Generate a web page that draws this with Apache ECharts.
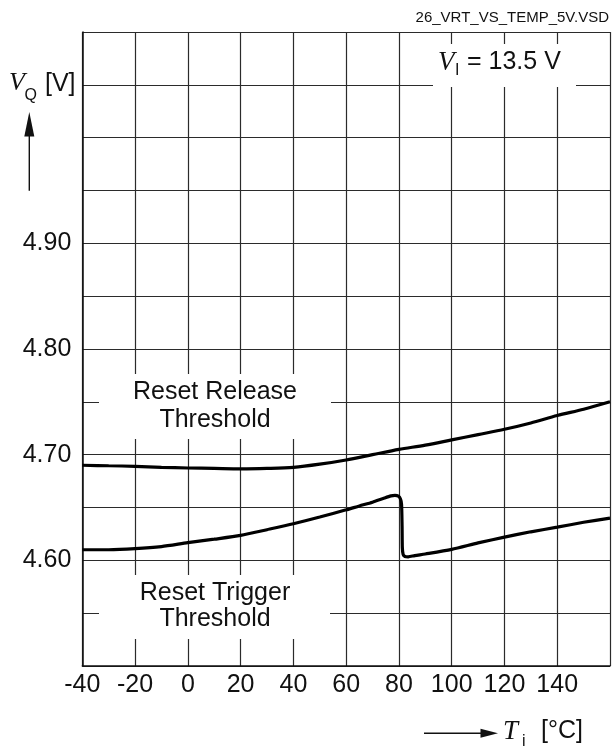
<!DOCTYPE html>
<html>
<head>
<meta charset="utf-8">
<script src="https://cdn.jsdelivr.net/npm/echarts@6/dist/echarts.min.js"></script>
<style>
html,body{margin:0;padding:0;background:#fff;}
#c{width:616px;height:746px;}
</style>
</head>
<body>
<div id="c"></div>
<script>
// ---- data ----
const releaseTemps = [-40,-30,-20,-10,0,10,20,30,40,50,60,70,80,90,100,110,120,130,140,150,160];
const releaseValues = [4.690,4.6895,4.689,4.688,4.6874,4.687,4.6866,4.687,4.688,4.691,4.695,4.700,4.705,4.709,4.714,4.719,4.724,4.730,4.737,4.743,4.750];

const triggerTemps = [-40,-30,-20,-10,0,10,20,30,40,50,60,65,70,74,77,78.5,79.8,80.6,81,81.2,81.3,81.6,82.3,83.5,86,90,100,110,120,130,140,150,160];
const triggerValues = [4.610,4.610,4.611,4.613,4.6167,4.620,4.6236,4.629,4.6346,4.641,4.6478,4.6515,4.655,4.6585,4.661,4.6615,4.6607,4.658,4.653,4.632,4.612,4.6055,4.6036,4.6033,4.6045,4.606,4.6104,4.6165,4.622,4.627,4.6314,4.636,4.640];

const xTickLabels = ['-40','-20','0','20','40','60','80','100','120','140'];
const yTickLabels = ['4.60','4.70','4.80','4.90'];

const releaseLabel = ['Reset Release', 'Threshold'];
const triggerLabel = ['Reset Trigger', 'Threshold'];
const fileLabel = '26_VRT_VS_TEMP_5V.VSD';
const conditionText = '= 13.5 V';

// ---- chart ----
const SANS = '"Liberation Sans", Arial, Helvetica, sans-serif';
const SERIF = '"Liberation Serif", "Times New Roman", serif';
const chart = echarts.init(document.getElementById('c'), null, {renderer: 'canvas'});

function zip(xs, ys){ return xs.map((x,i)=>[x, ys[i]]); }

const gridColor = '#2b2b2b';

function txt(x, y, text, font, opts){
  return {
    type: 'text', x: x, y: y, z: 20,
    style: Object.assign({text: text, font: font, fill: '#111', align: 'left', verticalAlign: 'middle'}, opts || {})
  };
}
function whiteBox(x, y, w, h){
  return {type: 'rect', z: 10, shape: {x: x, y: y, width: w, height: h}, style: {fill: '#fff'}};
}

const option = {
  backgroundColor: '#fff',
  animation: false,
  grid: {left: 82.3, right: 6, top: 32, bottom: 80, containLabel: false},
  xAxis: {
    type: 'value', min: -40, max: 160, interval: 20,
    axisLine: {show: true, onZero: false, lineStyle: {color: '#111', width: 1.5}},
    axisTick: {show: false},
    splitLine: {show: true, lineStyle: {color: gridColor, width: 1.2}},
    axisLabel: {
      margin: 7, fontSize: 25, color: '#111', fontFamily: SANS,
      formatter: v => { const s = String(Math.round(v)); return xTickLabels.includes(s) ? s : ''; }
    }
  },
  yAxis: {
    type: 'value', min: 4.5, max: 5.1, interval: 0.05,
    axisLine: {show: true, onZero: false, lineStyle: {color: '#111', width: 1.5}},
    axisTick: {show: false},
    splitLine: {show: true, lineStyle: {color: gridColor, width: 1.2}},
    axisLabel: {
      margin: 11, fontSize: 25, color: '#111', fontFamily: SANS,
      formatter: v => { const s = v.toFixed(2); return yTickLabels.includes(s) ? s : ''; }
    }
  },
  series: [
    {type: 'line', name: 'release', data: zip(releaseTemps, releaseValues), showSymbol: false, smooth: 0.3,
     lineStyle: {color: '#000', width: 3.2}, z: 30},
    {type: 'line', name: 'trigger', data: zip(triggerTemps, triggerValues), showSymbol: false, smooth: 0.25,
     lineStyle: {color: '#000', width: 3.2}, z: 30}
  ],
  graphic: [
    whiteBox(99, 374, 232, 65),
    whiteBox(99, 575, 231, 64),
    whiteBox(433, 44, 143, 43),
    txt(215, 392.5, releaseLabel[0], '25px ' + SANS, {align: 'center'}),
    txt(215, 420, releaseLabel[1], '25px ' + SANS, {align: 'center'}),
    txt(215, 593.5, triggerLabel[0], '25px ' + SANS, {align: 'center'}),
    txt(215, 619, triggerLabel[1], '25px ' + SANS, {align: 'center'}),
    txt(438, 62.5, 'V', 'italic 27px ' + SERIF),
    txt(455, 71, 'I', '16px ' + SANS),
    txt(467, 62.5, conditionText, '25px ' + SANS),
    txt(609, 18, fileLabel, '15px ' + SANS, {align: 'right'}),
    txt(9, 83.5, 'V', 'italic 26px ' + SERIF),
    txt(24.5, 96, 'Q', '16px ' + SANS),
    txt(45, 84, '[V]', '25px ' + SANS),
    {type: 'line', z: 20, shape: {x1: 29.3, y1: 190.7, x2: 29.3, y2: 130}, style: {stroke: '#111', lineWidth: 1.4}},
    {type: 'polygon', z: 20, shape: {points: [[29.3, 112], [24.3, 136.5], [34.3, 136.5]]}, style: {fill: '#111'}},
    {type: 'line', z: 20, shape: {x1: 424, y1: 733.3, x2: 486, y2: 733.3}, style: {stroke: '#111', lineWidth: 1.4}},
    {type: 'polygon', z: 20, shape: {points: [[498, 733.3], [480.5, 728.8], [480.5, 737.8]]}, style: {fill: '#111'}},
    txt(503, 731.5, 'T', 'italic 27px ' + SERIF),
    txt(522, 742, 'j', '16px ' + SANS),
    txt(541, 731.5, '[°C]', '25px ' + SANS)
  ]
};
chart.setOption(option);
</script>
</body>
</html>
